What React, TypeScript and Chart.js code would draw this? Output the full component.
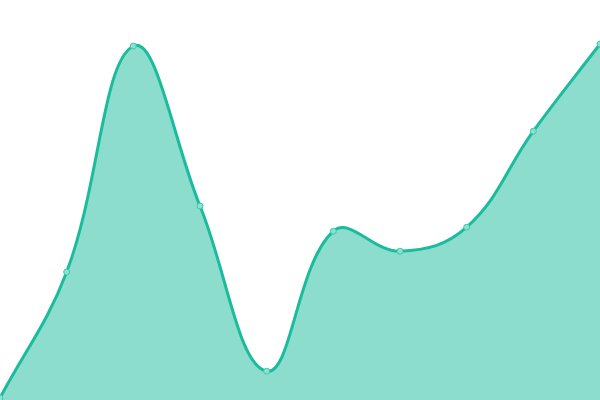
import { Chart, registerables } from "chart.js";
import { useEffect, useRef } from "react";

Chart.register(...registerables);

const labels = ["1", "2", "3", "4", "5", "6", "7", "8", "9", "10"];
const values = [0.5, 32, 88.5, 48.5, 7.2, 42.2, 37.2, 43.2, 67.2, 89];

const App = () => {
  const chartRef = useRef<Chart | null>(null);
  const canvasRef = useRef<HTMLCanvasElement | null>(null);

  useEffect(() => {
    document.body.style.margin = "0";
    if (!canvasRef.current) return;
    if (chartRef.current) chartRef.current.destroy();
    const ctx = canvasRef.current.getContext("2d");
    if (!ctx) return;

    chartRef.current = new Chart(ctx, {
      type: "line",
      data: {
        labels,
        datasets: [
          {
            data: values,
            fill: true,
            backgroundColor: "rgba(26, 188, 156, 0.5)",
            borderColor: "#1abc9c",
            borderWidth: 3,
            tension: 0.4,
            pointRadius: 3,
            pointBackgroundColor: "#8ce0cf",
            pointBorderColor: "#3cc8aa",
            pointBorderWidth: 1,
          },
        ],
      },
      options: {
        animation: false,
        responsive: true,
        maintainAspectRatio: false,
        layout: { padding: 0, autoPadding: false },
        scales: {
          x: { display: false, offset: false },
          y: { display: false, min: 0, max: 100 },
        },
        plugins: {
          legend: { display: false },
          tooltip: { enabled: false },
        },
      },
    });

    return () => {
      if (chartRef.current) chartRef.current.destroy();
    };
  }, []);

  return (
    <div style={{ position: "relative", width: 600, height: 400 }}>
      <canvas ref={canvasRef}></canvas>
    </div>
  );
};

export default App;
